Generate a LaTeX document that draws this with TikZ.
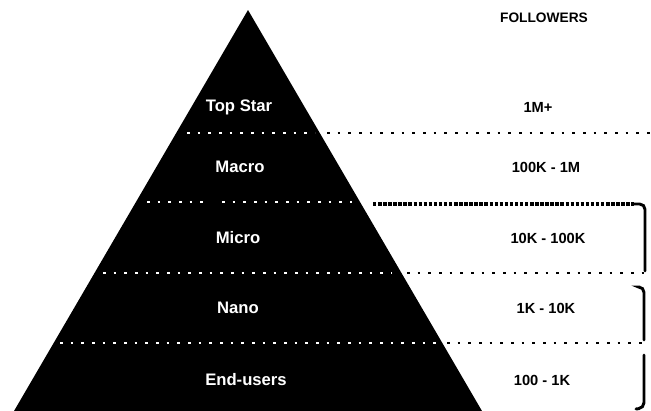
\documentclass[tikz,border=0pt]{standalone}
\usepackage{fontspec}
\setmainfont{Liberation Sans}
\begin{document}
\begin{tikzpicture}[x=0.75pt,y=-0.75pt,
  lbl/.style={font=\bfseries\fontsize{12.5}{14}\selectfont, text=white, inner sep=0pt},
  num/.style={font=\bfseries\fontsize{11}{13}\selectfont, text=black, inner sep=0pt},
  head/.style={font=\bfseries\fontsize{10.3}{12}\selectfont, text=black, inner sep=0pt},
  wdots/.style={white, line width=1.9pt, dash pattern=on 1.9pt off 6.1pt},
  bdots/.style={black, line width=1.9pt, dash pattern=on 1.9pt off 6.1pt},
  heavydots/.style={black, line width=2.4pt, dash pattern=on 2.6pt off 1.2pt},
  brk/.style={black, line width=2.2pt, line cap=round, rounded corners=4pt}]
\fill[white] (0,0) rectangle (651,411);
\useasboundingbox (0,0) rectangle (651,411);
% pyramid
\fill[black] (248,10) -- (482,411) -- (14,411) -- cycle;
% white dotted separators inside the pyramid
\draw[wdots] (187,133) -- (315,133);
\draw[wdots] (147,202) -- (210,202);
\draw[wdots] (222,202) -- (352,202);
\draw[wdots] (103,273) -- (392,273);
\draw[wdots] (60,343) -- (437,343);
% black dotted separators on the right
\draw[bdots] (327,133) -- (651,133);
\draw[heavydots] (373,204) -- (634,204);
\draw[bdots] (407,273) -- (648,273);
\draw[bdots] (447,343) -- (648,343);
% brackets
\draw[brk] (634,204) -- (645,204) -- (645,271);
\draw[brk] (640,287) -- (644,287) -- (644,340);
\draw[brk] (644,355) -- (644,408) -- (636,409);
% labels in pyramid
\node[lbl] (top) at (239,107) {Top Star};
\node[lbl] (macro) at (240,167) {Macro};
\node[lbl] (micro) at (238,238) {Micro};
\node[lbl] (nano) at (238,308) {Nano};
\node[lbl] (end) at (246,380) {End-users};
% follower counts
\node[head] (hd) at (544,18) {FOLLOWERS};
\node[num] (f1) at (538,107) {1M+};
\node[num] (f2) at (546,167) {100K - 1M};
\node[num] (f3) at (548,238) {10K - 100K};
\node[num] (f4) at (546,308) {1K - 10K};
\node[num] (f5) at (542,380) {100 - 1K};
\end{tikzpicture}
\end{document}
